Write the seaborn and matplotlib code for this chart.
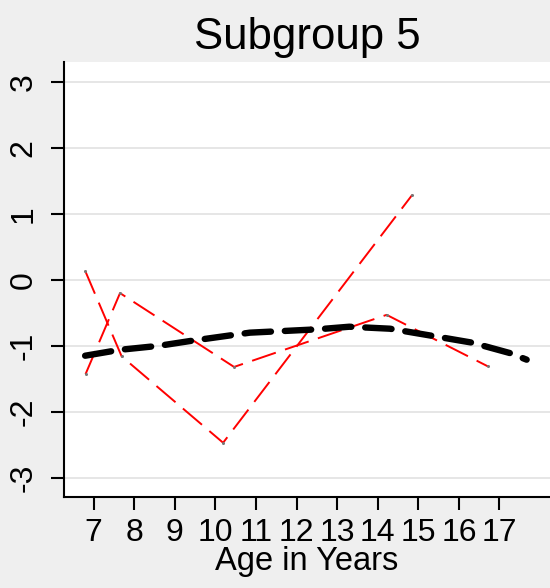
import matplotlib
matplotlib.use('Agg')
import matplotlib.pyplot as plt
import pandas as pd
import seaborn as sns

# individual trajectories (red) and the fitted mean curve (black)
age_a = [6.79, 7.69, 10.19, 14.85]
score_a = [0.14, -1.16, -2.47, 1.29]

age_b = [6.80, 7.65, 10.46, 14.22, 16.71]
score_b = [-1.43, -0.20, -1.32, -0.53, -1.31]

age_fit = [6.79, 7.65, 8.6, 9.45, 10.85, 12.5, 13.3, 14.3, 15.36, 16.31, 17.26, 17.67]
score_fit = [-1.15, -1.06, -1.0, -0.92, -0.8, -0.75, -0.71, -0.74, -0.85, -0.95, -1.11, -1.21]

x_ticks = list(range(7, 18))
y_ticks = [-3, -2, -1, 0, 1, 2, 3]

df_a = pd.DataFrame({'age': age_a, 'score': score_a})
df_b = pd.DataFrame({'age': age_b, 'score': score_b})
df_fit = pd.DataFrame({'age': age_fit, 'score': score_fit})

sns.set_style('white', {'axes.facecolor': 'white', 'axes.edgecolor': 'black',
                        'text.color': 'black', 'xtick.color': 'black',
                        'ytick.color': 'black', 'axes.labelcolor': 'black'})
plt.rcParams['font.family'] = ['Liberation Sans', 'DejaVu Sans']
plt.rcParams['lines.scale_dashes'] = False
plt.rcParams['axes.unicode_minus'] = False

fig, ax = plt.subplots(figsize=(5.5, 5.88), dpi=100)
fig.patch.set_facecolor('#efefef')
fig.subplots_adjust(left=0.1164, right=1.0, bottom=0.154, top=0.895)

for d in (df_a, df_b):
    sns.lineplot(data=d, x='age', y='score', sort=False, estimator=None, ax=ax,
                 color='red', linewidth=1.4, linestyle=(0, (18, 7)),
                 marker='o', markersize=2.2, markerfacecolor='#777777',
                 markeredgewidth=0)

sns.lineplot(data=df_fit, x='age', y='score', sort=False, estimator=None, ax=ax,
             color='black', linewidth=4.6, linestyle=(0, (19, 10)),
             dash_capstyle='round', solid_capstyle='round')

ax.set_xlim(6.27, 18.245)
ax.set_ylim(-3.3, 3.31)
ax.set_xticks(x_ticks)
ax.set_yticks(y_ticks)
ax.yaxis.grid(True, color='#e6e6e6', linewidth=1.4)
ax.xaxis.grid(False)
ax.set_axisbelow(True)

for s in ('top', 'right'):
    ax.spines[s].set_visible(False)
for s in ('left', 'bottom'):
    ax.spines[s].set_linewidth(1.5)

ax.tick_params(axis='both', which='major', direction='out', length=9.5,
               width=1.5, color='black', labelsize=23, bottom=True, left=True)
ax.tick_params(axis='y', pad=9)
ax.tick_params(axis='x', pad=5)
for lab in ax.get_yticklabels():
    lab.set_rotation(90)
    lab.set_va('center')

ax.set_title('Subgroup 5', fontsize=31.5, pad=9)
ax.set_xlabel('Age in Years', fontsize=23.5, labelpad=-1)
ax.set_ylabel('')

fig.savefig('out.png', dpi=100, facecolor=fig.get_facecolor())
